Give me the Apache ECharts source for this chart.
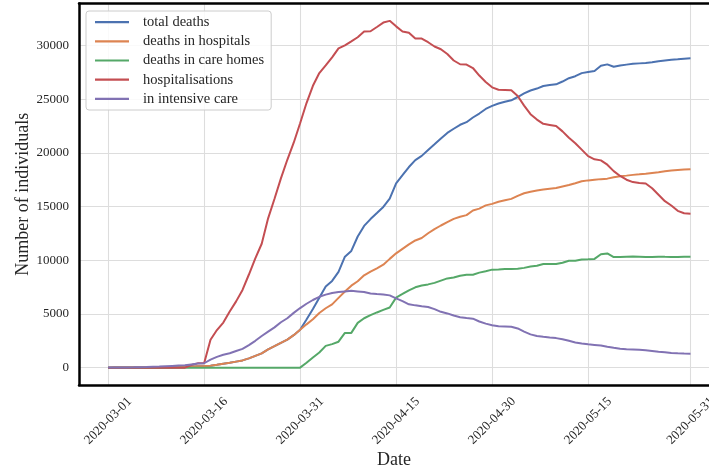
<!DOCTYPE html>
<html><head><meta charset="utf-8">
<script src="https://cdn.jsdelivr.net/npm/echarts@6/dist/echarts.min.js"></script>
<style>html,body{margin:0;padding:0;background:#fff}#c{width:709px;height:473px}</style>
</head><body><div id="c"></div><script>
// Dates: daily from 2020-03-01 to 2020-05-31 (92 days)
const DAY = 86400000;
const startDate = Date.UTC(2020, 2, 1);
const dates = [];
for (let i = 0; i < 92; i++) dates.push(startDate + i * DAY);

const xTickLabels = ['2020-03-01','2020-03-16','2020-03-31','2020-04-15','2020-04-30','2020-05-15','2020-05-31'];
const yTickValues = [0, 5000, 10000, 15000, 20000, 25000, 30000];

const totalDeaths = [2,3,4,4,6,9,11,19,25,33,48,61,79,91,127,148,175,264,372,450,562,674,860,1100,1331,1696,1995,2314,2606,3024,3523,
4482,5453,6507,7560,8078,8911,10328,10869,12210,13197,
13832,14393,14967,15729,17167,17920,18681,19323,19718,20265,
20796,21340,21856,22245,22614,22856,23293,23660,24087,24376,
24594,24760,24895,25201,25531,25809,25987,26230,26310,26380,
26643,26953,27136,27425,27529,27625,28108,28239,28022,28132,
28215,28289,28332,28367,28432,28530,28596,28662,28714,28771,28802];

const hospitalDeaths = [2,3,4,4,6,9,11,19,25,33,48,61,79,91,127,148,175,264,372,450,562,674,860,1100,1331,1696,1995,2314,2606,3024,3523,
4032,4503,5091,5532,5889,6494,7091,7632,8044,8598,
8943,9253,9588,10129,10643,11060,11478,11842,12069,12513,
12900,13236,13547,13852,14050,14202,14639,14810,15111,15250,
15447,15580,15714,16000,16240,16386,16497,16580,16660,16727,
16873,17003,17176,17350,17437,17500,17554,17600,17730,17830,
17880,17950,18000,18060,18130,18200,18280,18350,18410,18450,18475];

const careHomeDeaths = [0,0,0,0,0,0,0,0,0,0,0,0,0,0,0,0,0,0,0,0,0,0,0,0,0,0,0,0,0,0,0,
450,950,1416,2028,2189,2417,3237,3237,4166,4599,
4889,5140,5379,5600,6524,6860,7203,7481,7649,7752,
7896,8104,8309,8393,8564,8654,8654,8850,8976,9126,
9147,9180,9181,9201,9291,9423,9490,9650,9650,9653,
9770,9950,9960,10075,10092,10125,10554,10639,10292,10302,
10335,10339,10332,10307,10302,10330,10316,10312,10304,10321,10327];

const hospitalisations = [0,0,0,0,0,0,0,0,0,0,0,0,0,250,400,420,2600,3500,4200,5226,
6172,7240,8673,10176,11539,13904,15732,17620,19354,20946,22757,
24639,26246,27432,28143,28891,29722,30008,30381,30767,31305,
31320,31716,32131,32292,31779,31305,31190,30650,30640,30300,
29900,29650,29200,28600,28250,28220,27900,27200,26600,26100,
25880,25860,25830,25300,24400,23600,23100,22700,22600,22500,
22000,21400,20900,20300,19700,19400,19300,18900,18300,17850,
17500,17280,17200,17150,16700,16100,15500,15100,14600,14380,14340];

const intensiveCare = [5,10,15,20,30,45,60,80,100,130,160,190,220,300,380,410,750,1000,1200,1340,
1550,1750,2100,2500,2950,3350,3750,4230,4600,5100,5550,
5950,6300,6600,6800,6950,7050,7100,7150,7100,7050,
6900,6850,6820,6730,6450,6200,5900,5800,5720,5650,
5450,5200,5050,4850,4700,4620,4560,4300,4100,3950,
3850,3830,3800,3650,3350,3100,2950,2870,2800,2750,
2650,2500,2350,2250,2170,2120,2070,1950,1850,1760,
1720,1690,1660,1610,1550,1480,1430,1360,1330,1310,1306];

const seriesNames = ['total deaths','deaths in hospitals','deaths in care homes','hospitalisations','in intensive care'];
const seriesColors = ['#4C72B0','#DD8452','#55A868','#C44E52','#8172B3'];
const seriesData = [totalDeaths, hospitalDeaths, careHomeDeaths, hospitalisations, intensiveCare];

const xTicks = xTickLabels.map(s => Date.parse(s + 'T00:00:00Z'));
const FONT = 'Liberation Serif';
const TXT = '#262626';

// visible x-range: left spine 4.55 days before the first date; canvas cuts the plot before its right spine
const xMin = startDate - 4.55 * DAY;
const xMax = xMin + 98.44 * DAY;

const chart = echarts.init(document.getElementById('c'), null, {renderer: 'canvas'});
chart.setOption({
  animation: false,
  backgroundColor: '#fff',
  textStyle: {fontFamily: FONT},
  grid: {left: 79, right: 0, top: 3.5, bottom: 88, show: false, containLabel: false, outerBoundsMode: 'none'},
  legend: {
    orient: 'vertical', left: 86, top: 11,
    data: seriesNames,
    icon: 'rect', itemWidth: 34, itemHeight: 2.2, itemGap: 0,
    backgroundColor: 'rgba(255,255,255,0.85)', borderColor: '#cccccc', borderWidth: 1, borderRadius: 3,
    padding: [1.5, 7, 1.5, 9],
    textStyle: {fontFamily: FONT, fontSize: 14.5, color: TXT, lineHeight: 19.2, padding: [0, 0, 0, 9]}
  },
  xAxis: [{
    type: 'value', position: 'bottom',
    min: xMin, max: xMax,
    name: 'Date', nameLocation: 'middle', nameGap: 66, nameMoveOverlap: false,
    nameTextStyle: {fontFamily: FONT, fontSize: 18, color: TXT},
    axisLine: {show: true, onZero: false, lineStyle: {color: '#000', width: 2.5}},
    axisTick: {show: false, customValues: xTicks},
    axisLabel: {
      customValues: xTicks, rotate: 45, align: 'center', verticalAlign: 'middle', margin: 36,
      fontFamily: FONT, fontSize: 13, color: TXT,
      formatter: v => new Date(v).toISOString().slice(0, 10)
    },
    splitLine: {show: true, lineStyle: {color: '#dddddd', width: 1.1}}
  }, {
    type: 'value', position: 'top',
    min: xMin, max: xMax,
    axisLine: {show: true, onZero: false, lineStyle: {color: '#000', width: 2.5}},
    axisTick: {show: false}, axisLabel: {show: false}, splitLine: {show: false}
  }],
  yAxis: {
    type: 'value', min: -1615, max: 33907,
    name: 'Number of individuals', nameLocation: 'middle', nameGap: 47, nameRotate: 90, nameMoveOverlap: false,
    nameTextStyle: {fontFamily: FONT, fontSize: 18, color: TXT},
    axisLine: {show: true, onZero: false, lineStyle: {color: '#000', width: 2.5}},
    axisTick: {show: false, customValues: yTickValues},
    axisLabel: {customValues: yTickValues, margin: 10, fontFamily: FONT, fontSize: 13, color: TXT, formatter: v => String(v)},
    splitLine: {show: true, lineStyle: {color: '#dddddd', width: 1.1}}
  },
  series: seriesNames.map((name, k) => ({
    name, type: 'line', showSymbol: false, symbol: 'none', xAxisIndex: 0,
    data: seriesData[k].map((v, i) => [dates[i], v]),
    lineStyle: {color: seriesColors[k], width: 2},
    itemStyle: {color: seriesColors[k]},
    emphasis: {disabled: true}
  }))
});
</script></body></html>
